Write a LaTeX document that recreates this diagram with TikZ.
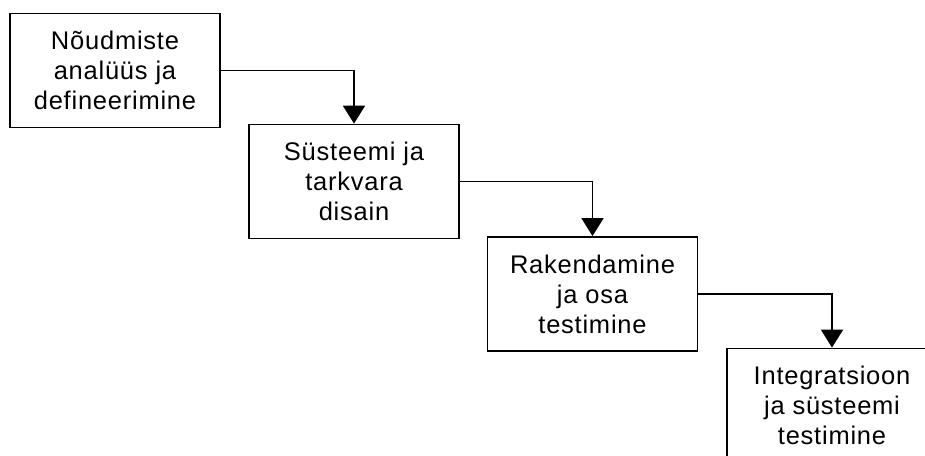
\documentclass[tikz,border=0pt]{standalone}
\usepackage{fontspec}
\setmainfont{Liberation Sans}[LetterSpace=3]
\usetikzlibrary{arrows.meta}
\begin{document}
\begin{tikzpicture}[x=1pt,y=-1pt,
  phase/.style={draw=black, line width=1.8pt, minimum width=210pt, minimum height=114pt,
    inner sep=0pt, align=center, font=\fontsize{25.5}{30}\selectfont},
  flow/.style={line width=1.8pt, -{Triangle[width=22pt,length=18pt]}}]
\useasboundingbox (0,0) rectangle (925,455);
\clip (0,0) rectangle (925,455);
\node[phase] (b1) at (115,70.5) {Nõudmiste\\analüüs ja\\defineerimine};
\node[phase] (b2) at (354,181.5) {Süsteemi ja\\tarkvara\\disain};
\node[phase] (b3) at (592.5,294) {Rakendamine\\ja osa\\testimine};
\node[phase] (b4) at (832,405.5) {Integratsioon\\ja süsteemi\\testimine};
\draw[flow] (b1.east) -| (b2.north);
\draw[flow] (b2.east) -| (b3.north);
\draw[flow] (b3.east) -| (b4.north);
\end{tikzpicture}
\end{document}
